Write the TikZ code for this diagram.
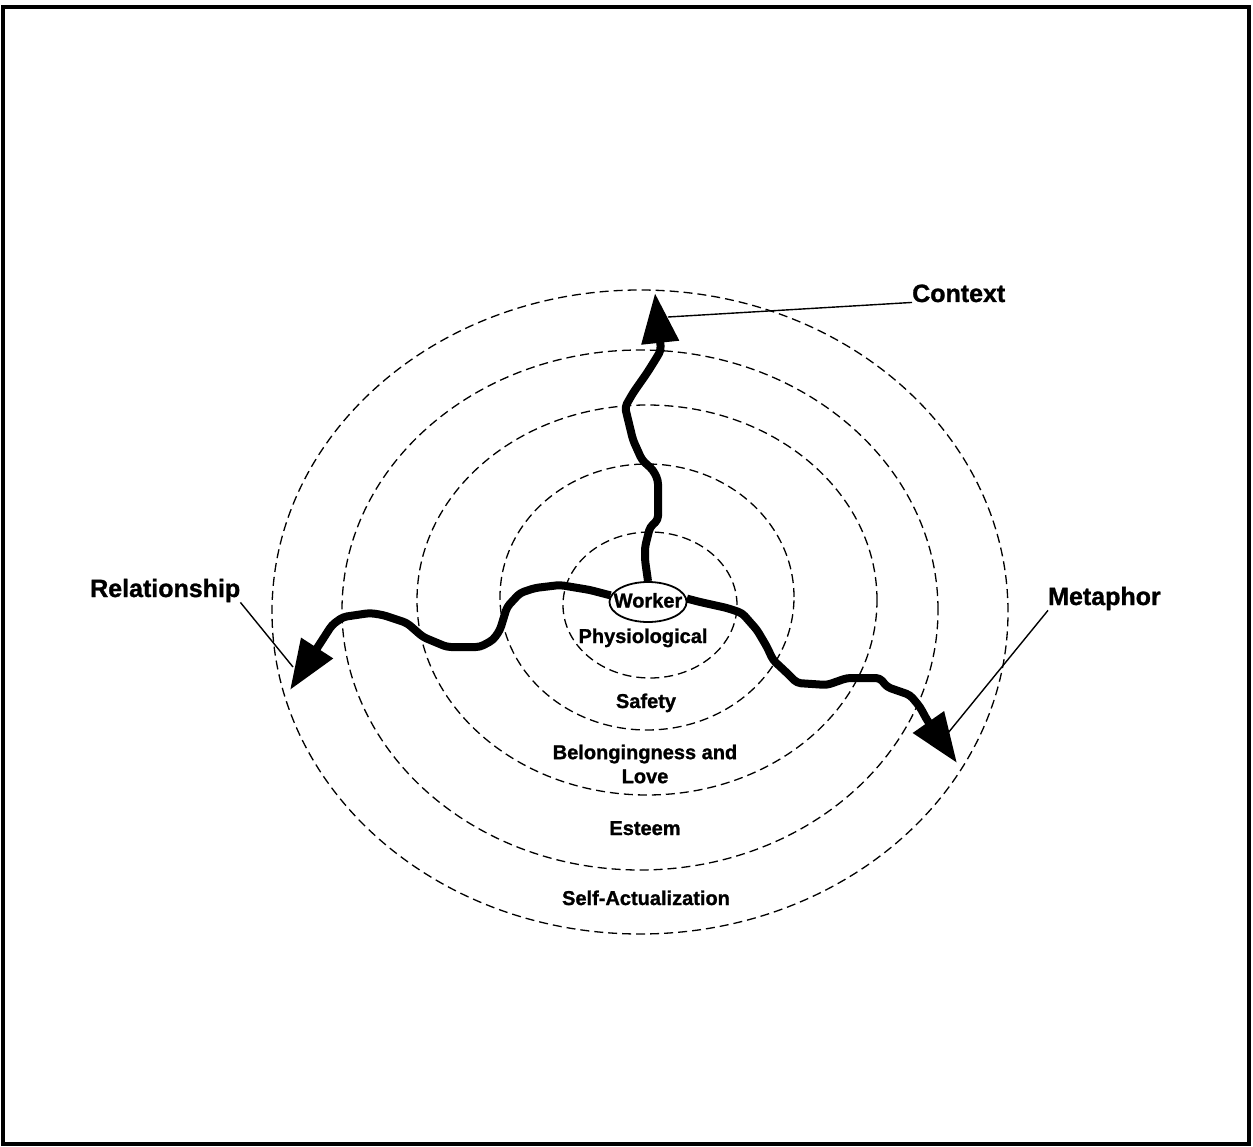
\documentclass[tikz,border=0pt]{standalone}
\usepackage{fontspec}
\setmainfont{Liberation Sans}[BoldFeatures={FakeBold=1.2}]
\usetikzlibrary{arrows.meta,shapes.geometric}
\tikzset{
  ring/.style={dash pattern=on 9pt off 5pt,line width=1.3pt},
  need/.style={font=\fontsize{20}{24}\selectfont\bfseries,inner sep=0pt},
  lbl/.style={font=\fontsize{25}{30}\selectfont\bfseries,inner sep=0pt},
  route/.style={line width=8pt,rounded corners=4pt,line join=round,
    -{Triangle[length=50pt,width=36pt]}},
  pointer/.style={line width=1.4pt}
}
\begin{document}
\begin{tikzpicture}[x=1pt,y=-1pt]
\useasboundingbox (0,0) rectangle (1253,1147);
\draw[line width=3.2pt] (3,7) rectangle (1249,1144);
% need levels
\draw[ring] (640,612) ellipse [x radius=368pt,y radius=322pt];
\draw[ring] (640,610) ellipse [x radius=298pt,y radius=260pt];
\draw[ring] (647,600) ellipse [x radius=230pt,y radius=195pt];
\draw[ring] (647,597) ellipse [x radius=147pt,y radius=133pt];
\draw[ring] (650,605) ellipse [x radius=87pt,y radius=73pt];
\node[need,anchor=base] (physio) at (643,643) {Physiological};
\node[need,anchor=base] (safety) at (646,708) {Safety};
\node[need,align=center] (belong) at (645,764) {Belongingness and\\Love};
\node[need,anchor=base] (esteem) at (645,835) {Esteem};
\node[need,anchor=base] (selfact) at (646,905) {Self-Actualization};
\node[need,draw,ellipse,line width=1.8pt,inner xsep=-7pt,minimum height=40pt,
  text height=15pt,text depth=4pt,fill=white] (worker) at (648,602) {Worker};
% paths out of the worker
\draw[route] (worker.north) -- (645,560) -- (645,547) -- (650,527) -- (658,520)
  -- (658,480) -- (653,470) -- (642,460) -- (633,440) -- (625,407) -- (633,393)
  -- (647,373) -- (657,357) -- (661,350) -- (655,293);
\draw[route] (worker.170) -- (590,590) -- (560,585) -- (535,588) -- (520,593)
  -- (507,607) -- (500,630) -- (493,640) -- (480,647) -- (447,647) -- (423,637)
  -- (407,623) -- (383,615) -- (370,613) -- (343,617) -- (332,625) -- (290,690);
\draw[route] (worker.5) -- (700,602) -- (727,608) -- (742,613) -- (757,630)
  -- (767,647) -- (773,660) -- (787,673) -- (797,683) -- (827,685) -- (847,678)
  -- (880,678) -- (887,687) -- (910,695) -- (920,707) -- (927,720) -- (957,763);
\coordinate (ctxpt) at (668,317);
\coordinate (relpt) at (293,667);
\coordinate (metpt) at (948,733);
% labels
\node[lbl,anchor=base west] (context) at (912,302) {Context};
\node[lbl,anchor=base west] (relation) at (90,597) {Relationship};
\node[lbl,anchor=base west] (metaphor) at (1048,605) {Metaphor};
\draw[pointer] (context.south west) -- (ctxpt);
\draw[pointer] (relation.south east) -- (relpt);
\draw[pointer] (metaphor.south west) -- (metpt);
\end{tikzpicture}
\end{document}
